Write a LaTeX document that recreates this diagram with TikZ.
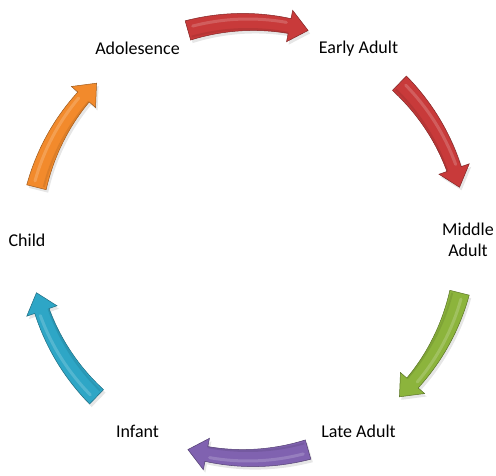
\documentclass[tikz,border=0pt]{standalone}
\usepackage{fontspec}
\setmainfont{Carlito}
\usepackage{tikz}
\usetikzlibrary{shadows}

\definecolor{lifered}{RGB}{200,58,58}
\definecolor{lifegreen}{RGB}{140,180,60}
\definecolor{lifepurple}{RGB}{128,98,176}
\definecolor{lifeblue}{RGB}{46,166,198}
\definecolor{lifeorange}{RGB}{242,138,44}

% curved block arrow on the ring: colour, tail angle, tip angle
\newcommand{\lifearrow}[3]{%
  \pgfmathsetmacro{\headbase}{#3+5}
  \fill[#1, draw=#1!65!black, line width=.5pt,
        drop shadow={opacity=.2, shadow xshift=2pt, shadow yshift=-3pt}]
    plot[domain=#2:\headbase, samples=25] (\x:{228-2.5*(#2-\x)/(#2-\headbase)})
    -- (\headbase:234) -- (#3:218) -- (\headbase:202)
    -- plot[domain=\headbase:#2, samples=25] (\x:{208+2.5*(#2-\x)/(#2-\headbase)})
    -- cycle;
  \draw[#1!70!white, line width=3pt, opacity=.6, line cap=round]
    (#2-1.5:221) arc[start angle=#2-1.5, end angle=\headbase+1, radius=221];
  \draw[#1!75!black, line width=2pt, opacity=.35]
    (#2-.5:211) arc[start angle=#2-.5, end angle=\headbase, radius=211];
}

\begin{document}
\begin{tikzpicture}[
                    x=1pt,
                    y=1pt,
                    stage/.style={font=\fontsize{18}{21.5}\selectfont, align=center, inner sep=0pt}
                ]
                \useasboundingbox (-248,-235) rectangle (248,240);

                \node[stage] (early-adult) at (60:221) {Early Adult};
                \node[stage] (middle-adult) at (0:220) {Middle\\Adult};
                \node[stage] (late-adult) at (-60:221) {Late Adult};
                \node[stage] (infant) at (-120:221) {Infant};
                \node[stage] (child) at (180:221) {Child};
                \node[stage] (adolesence) at (120:221) {Adolesence};

                \lifearrow{lifered}{106}{74}
                \lifearrow{lifered}{46}{14}
                \lifearrow{lifegreen}{-14}{-46}
                \lifearrow{lifepurple}{286}{254}
                \lifearrow{lifeblue}{226}{194}
                \lifearrow{lifeorange}{166}{134}
            \end{tikzpicture}
\end{document}
